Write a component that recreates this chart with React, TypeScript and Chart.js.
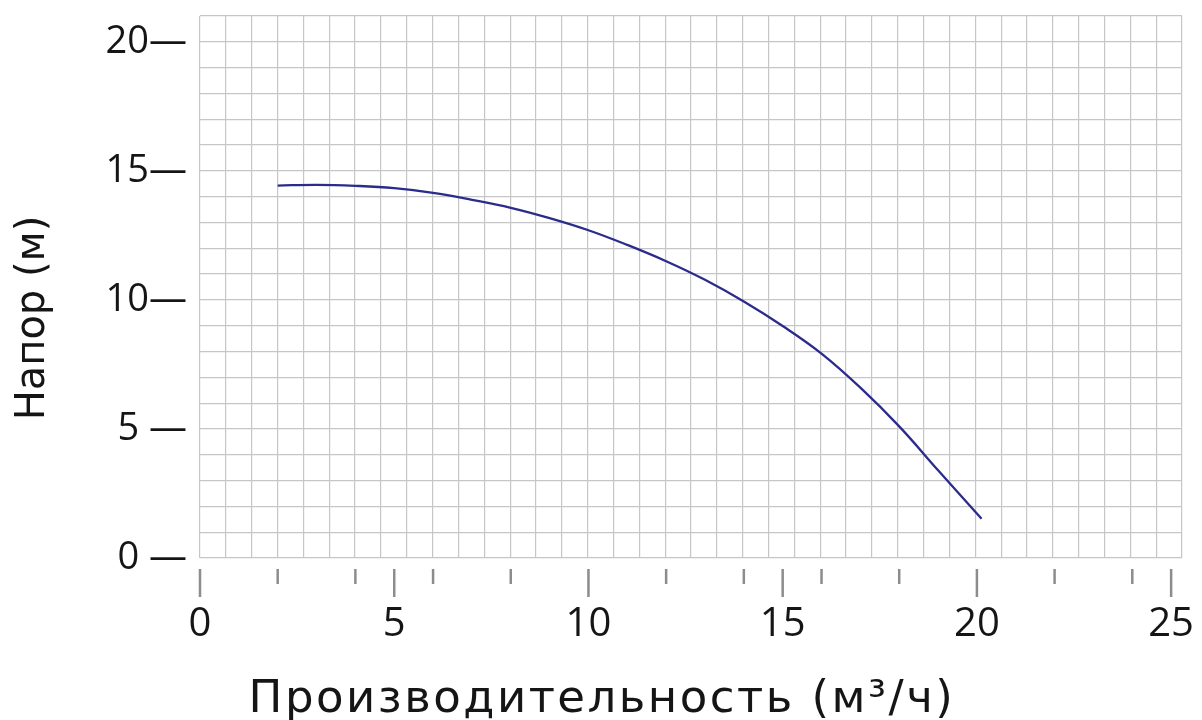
import { useEffect, useRef } from "react";
import { Chart, registerables } from "chart.js";

Chart.register(...registerables);

// Pump curve: flow (m³/h) vs head (m)
const flowValues = [2, 3, 4, 5, 6, 7, 8, 9, 10, 11, 12, 13, 14, 15, 16, 17, 18, 19, 20.12];
const headValues = [14.43, 14.46, 14.42, 14.33, 14.15, 13.88, 13.57, 13.17, 12.7, 12.13, 11.5, 10.78, 9.94, 8.99, 7.92, 6.6, 5.1, 3.4, 1.52];

const xLabelValues = [0, 5, 10, 15, 20, 25];
const xMinorMarks = [2, 4, 6, 8, 12, 14, 16, 18, 22, 24];
const yLabelValues = [0, 5, 10, 15, 20];
const yLabelTexts = ["0 —", "5 —", "10—", "15—", "20—"];

const xTitle = "Производительность (м³/ч)";
const yTitle = "Напор (м)";

const FONT = "'Open Sans', 'Noto Sans', sans-serif";
const TITLE_FONT = "'DejaVu Sans', 'Open Sans', sans-serif";
const GRID = "#c6c6c6";
const TEXT = "#151515";

const zeroPad = (s: any) => {
  s.paddingLeft = 0;
  s.paddingRight = 0;
  s.paddingTop = 0;
  s.paddingBottom = 0;
};

export default function App() {
  const ref = useRef<HTMLCanvasElement | null>(null);

  useEffect(() => {
    const canvas = ref.current;
    if (!canvas) return;

    const decor = {
      id: "decor",
      afterDraw(chart: any) {
        const ctx = chart.ctx as any;
        const xs = chart.scales.x;
        const area = chart.chartArea;
        ctx.save();
        ctx.strokeStyle = "#8c8c8c";
        ctx.lineWidth = 2.5;
        const top = area.bottom + 11;
        xLabelValues.forEach((v) => {
          const px = xs.getPixelForValue(v);
          ctx.beginPath();
          ctx.moveTo(px, top);
          ctx.lineTo(px, top + 28);
          ctx.stroke();
        });
        xMinorMarks.forEach((v) => {
          const px = xs.getPixelForValue(v);
          ctx.beginPath();
          ctx.moveTo(px, top);
          ctx.lineTo(px, top + 15);
          ctx.stroke();
        });
        // axis titles
        ctx.fillStyle = TEXT;
        ctx.textAlign = "center";
        ctx.textBaseline = "alphabetic";
        ctx.font = `45px ${TITLE_FONT}`;
        ctx.letterSpacing = "2.5px";
        ctx.fillText(xTitle, chart.width / 2 + 1, 712);
        ctx.letterSpacing = "0px";
        ctx.font = `40px ${TITLE_FONT}`;
        ctx.translate(44, 318);
        ctx.rotate(-Math.PI / 2);
        ctx.fillText(yTitle, 0, 0);
        ctx.restore();
      },
    };

    const chart = new Chart(canvas, {
      type: "line",
      data: {
        datasets: [
          {
            data: flowValues.map((x, i) => ({ x, y: headValues[i] })),
            borderColor: "#2b2b8c",
            borderWidth: 2.3,
            pointRadius: 0,
            fill: false,
            tension: 0.4,
          },
        ],
      },
      options: {
        animation: false,
        responsive: false,
        maintainAspectRatio: false,
        layout: { padding: { top: 16, right: 20, left: 0, bottom: 0 } },
        plugins: {
          legend: { display: false },
          tooltip: { enabled: false },
        },
        scales: {
          x: {
            type: "linear",
            position: "bottom",
            min: 0,
            max: 25.28,
            grid: { display: false },
            border: { display: false },
            afterBuildTicks: (s: any) => {
              s.ticks = xLabelValues.map((v) => ({ value: v }));
            },
            afterFit: (s: any) => {
              s.height = 162;
              zeroPad(s);
            },
            ticks: {
              autoSkip: false,
              maxRotation: 0,
              padding: 35,
              color: TEXT,
              font: { family: FONT, size: 40 },
            },
          },
          grid2: {
            type: "linear",
            position: "top",
            axis: "x",
            min: 0,
            max: 38,
            grid: { color: GRID, lineWidth: 1.2, drawTicks: false },
            border: { display: false },
            ticks: { display: false, stepSize: 1, autoSkip: false },
            afterFit: (s: any) => {
              s.height = 0;
              zeroPad(s);
            },
          },
          y: {
            type: "linear",
            min: 0,
            max: 21,
            grid: { color: GRID, lineWidth: 1.2, drawTicks: false },
            border: { display: false },
            afterFit: (s: any) => {
              s.width = 200;
              zeroPad(s);
            },
            ticks: {
              stepSize: 1,
              autoSkip: false,
              padding: 13,
              color: TEXT,
              font: { family: FONT, size: 38 },
              callback: (v: any) => {
                const i = yLabelValues.indexOf(Number(v));
                return i >= 0 ? yLabelTexts[i] : "";
              },
            },
          },
        },
      },
      plugins: [decor],
    } as any);

    return () => chart.destroy();
  }, []);

  return (
    <div style={{ position: "absolute", left: 0, top: 0, width: 1202, height: 720, background: "#fff" }}>
      <canvas ref={ref} width={1202} height={720} style={{ width: 1202, height: 720, display: "block" }} />
    </div>
  );
}
